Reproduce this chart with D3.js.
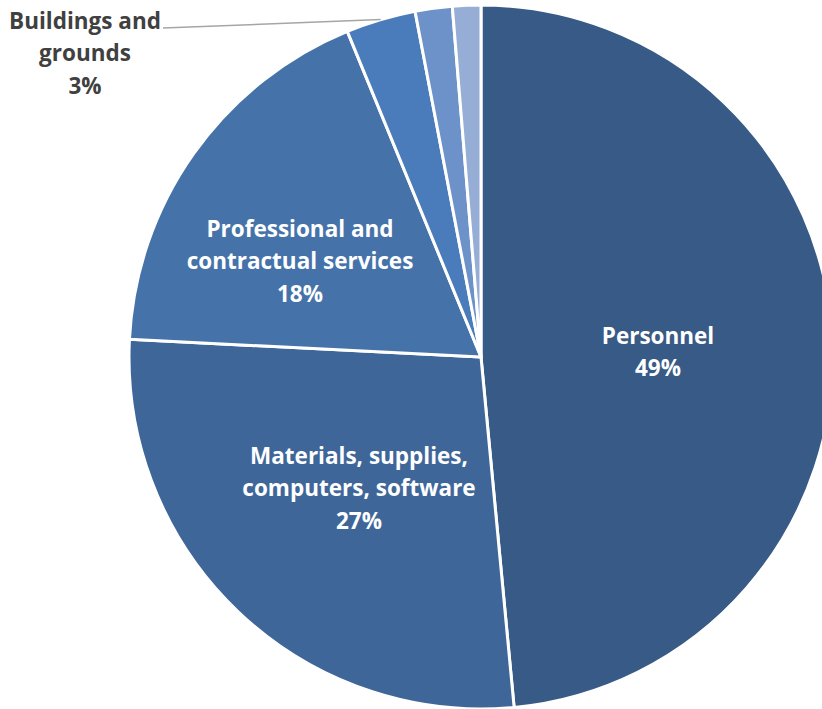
<!DOCTYPE html>
<html>
<head>
<meta charset="utf-8">
<script src="https://cdn.jsdelivr.net/npm/d3@7"></script>
<style>
  html, body { margin: 0; padding: 0; background: #fff; overflow: hidden; }
  svg { display: block; }
</style>
</head>
<body>
<div id="chart"></div>
<script>
// ---- Data ----
const categories = ["Personnel", "Materials, supplies, computers, software", "Professional and contractual services", "Buildings and grounds", "Other A", "Other B"];
const shares = [48.5, 27.3, 18.0, 3.2, 1.7, 1.3];
const colors = ["#375a86", "#3e6699", "#4573a9", "#4a7cbc", "#6d91c9", "#96aed6"];
const labelLines = [
  ["Personnel", "49%"],
  ["Materials, supplies,", "computers, software", "27%"],
  ["Professional and", "contractual services", "18%"],
  ["Buildings and", "grounds", "3%"]
];

const W = 822, H = 709;
const cx = 481, cy = 357, R = 352;

const svg = d3.select("#chart").append("svg")
  .attr("width", W).attr("height", H);

const pie = d3.pie().sort(null).value(d => d.v);
const arc = d3.arc().innerRadius(0).outerRadius(R);
const arcs = pie(shares.map((v, i) => ({ v, i })));

const g = svg.append("g").attr("transform", `translate(${cx},${cy})`);

g.selectAll("path")
  .data(arcs)
  .join("path")
  .attr("d", arc)
  .attr("fill", d => colors[d.data.i])
  .attr("stroke", "#fff")
  .attr("stroke-width", 3)
  .attr("stroke-linejoin", "round");

// ---- Labels ----
const lineH = 32.5;
const font = "'Open Sans', Lato, sans-serif";
const fontSize = 22.5;

// label block centres (relative to pie centre), picked to match the reference
const labelPos = [
  { x: 177, y: -3, fill: "#fff" },
  { x: -122, y: 133, fill: "#fff" },
  { x: -181, y: -94, fill: "#fff" },
  { x: -396, y: -302, fill: "#404040" }
];

labelPos.forEach((p, i) => {
  const lines = labelLines[i];
  const t = g.append("text")
    .attr("text-anchor", "middle")
    .attr("fill", p.fill)
    .attr("font-family", font)
    .attr("font-weight", 700)
    .attr("font-size", fontSize);
  lines.forEach((s, k) => {
    t.append("tspan")
      .attr("x", p.x)
      .attr("y", p.y + (k - (lines.length - 1) / 2) * lineH)
      .attr("dominant-baseline", "middle")
      .text(s);
  });
});

// leader line for Buildings and grounds
{
  const a = arcs[3];
  const mid = (a.startAngle + a.endAngle) / 2;
  const ex = Math.sin(mid) * R, ey = -Math.cos(mid) * R;
  g.append("line")
    .attr("x1", ex).attr("y1", ey)
    .attr("x2", -318).attr("y2", -329)
    .attr("stroke", "#a6a6a6").attr("stroke-width", 1.5);
}
</script>
</body>
</html>
